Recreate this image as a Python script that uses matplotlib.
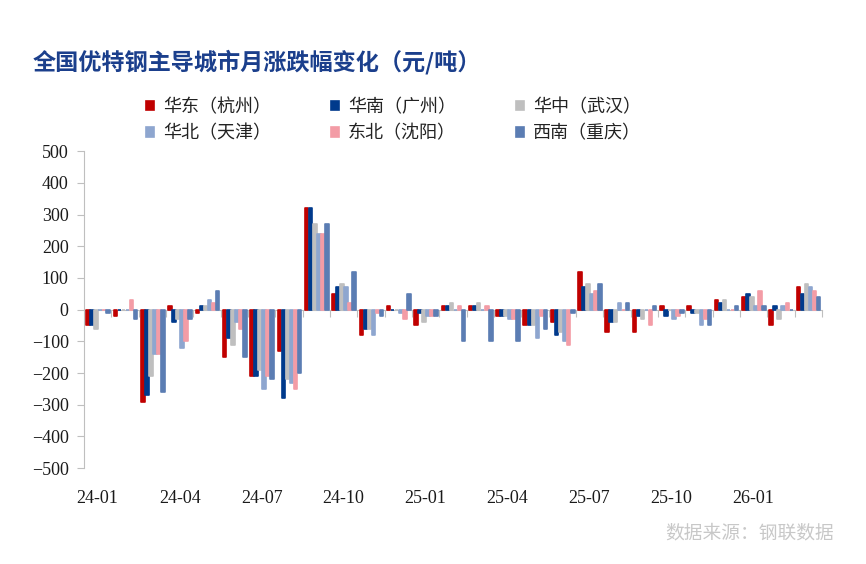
import numpy as np
import matplotlib
matplotlib.use("Agg")
import matplotlib.pyplot as plt

plt.rcParams['font.family'] = ['Noto Sans CJK SC', 'DejaVu Sans']

months = ['24-01', '24-02', '24-03', '24-04', '24-05', '24-06', '24-07', '24-08', '24-09',
          '24-10', '24-11', '24-12', '25-01', '25-02', '25-03', '25-04', '25-05', '25-06',
          '25-07', '25-08', '25-09', '25-10', '25-11', '25-12', '26-01', '26-02', '26-03']

huadong = [-50, -20, -290, 10, -10, -150, -210, -130, 320, 50, -80, 10, -50, 10, 10, -20, -50, -40,
           120, -70, -70, 10, 10, 30, 40, -50, 70]
huanan = [-50, 0, -270, -40, 10, -90, -210, -280, 320, 70, -60, 0, -10, 10, 10, -20, -50, -80,
          70, -40, -20, -20, -10, 20, 50, 10, 50]
huazhong = [-60, 0, -210, -30, 10, -110, -190, -220, 270, 80, -60, 0, -40, 20, 20, -20, -50, -70,
            80, -40, -30, 0, -10, 30, 40, -30, 80]
huabei = [0, 0, -140, -120, 30, -40, -250, -230, 240, 70, -80, -10, -20, 0, 0, -30, -90, -100,
          50, 20, 0, -30, -50, 0, 10, 10, 70]
dongbei = [0, 30, -140, -100, 20, -60, -210, -250, 240, 20, -10, -30, -20, 10, 10, -30, -20, -110,
           60, 0, -50, -20, -30, 0, 60, 20, 60]
xinan = [-10, -30, -260, -30, 60, -150, -220, -200, 270, 120, -20, 50, -20, -100, -100, -100, -60, -10,
         80, 20, 10, -10, -50, 10, 10, 0, 40]

series = [
    ('华东（杭州）', huadong, '#C00000'),
    ('华南（广州）', huanan, '#003A8C'),
    ('华中（武汉）', huazhong, '#BFBFBF'),
    ('华北（天津）', huabei, '#8EA6CF'),
    ('东北（沈阳）', dongbei, '#F39CA6'),
    ('西南（重庆）', xinan, '#5B7DB3'),
]

fig = plt.figure(figsize=(8.66, 5.64), dpi=100)
ax = fig.add_axes([0.097, 0.170, 0.852, 0.562])

x = np.arange(len(months))
step = 0.147
handles = {}
for i, (name, vals, color) in enumerate(series):
    b = ax.bar(x - 0.5 + 0.075 + step * (i + 0.5), vals, width=step - 0.015, color=color,
               edgecolor=color, linewidth=1.2, joinstyle='round', zorder=2)
    handles[name] = b

ax.set_xlim(-0.5, len(months) - 0.5)
ax.set_ylim(-500, 500)
ax.set_yticks(np.arange(-500, 501, 100))

axis_grey = '#BFBFBF'
for s in ['top', 'right', 'bottom']:
    ax.spines[s].set_visible(False)
ax.spines['left'].set_color(axis_grey)
ax.tick_params(axis='y', length=5, color=axis_grey, pad=6)
ax.set_xticks(x[::3])
ax.set_xticklabels(months[::3])
ax.tick_params(axis='x', length=0, pad=16)
for lab in ax.get_xticklabels() + ax.get_yticklabels():
    lab.set_fontfamily('Liberation Serif')
    lab.set_fontsize(13)
    lab.set_color('#1a1a1a')

# category axis sits on the zero line, ticks between months pointing down
zero_ax = ax.secondary_xaxis(0.5)
bounds = np.arange(0.5, len(months) - 0.4, 1.0)
zero_ax.set_xticks(bounds)
zero_ax.set_xticklabels([''] * len(bounds))
zero_ax.xaxis.set_ticks_position('bottom')
zero_ax.tick_params(length=5, color=axis_grey, direction='out')
zero_ax.spines['bottom'].set_color(axis_grey)
zero_ax.spines['top'].set_color(axis_grey)

order = ['华东（杭州）', '华北（天津）', '华南（广州）', '东北（沈阳）', '华中（武汉）', '西南（重庆）']
fig.legend([handles[n] for n in order], order, ncol=3, loc='upper left',
           bbox_to_anchor=(0.150, 0.855), frameon=False, fontsize=13,
           handlelength=0.45, handleheight=0.45, handletextpad=0.5,
           columnspacing=3.3, labelspacing=0.45, labelcolor='#222222')

fig.text(0.038, 0.89, '全国优特钢主导城市月涨跌幅变化（元/吨）', fontsize=16.7, fontweight='bold',
         color='#1B3F8C', va='center', ha='left')
fig.text(0.963, 0.055, '数据来源：钢联数据', fontsize=13.5, color='#C8C8C8', ha='right', va='center')

fig.savefig('out.png', dpi=100, facecolor='white')
